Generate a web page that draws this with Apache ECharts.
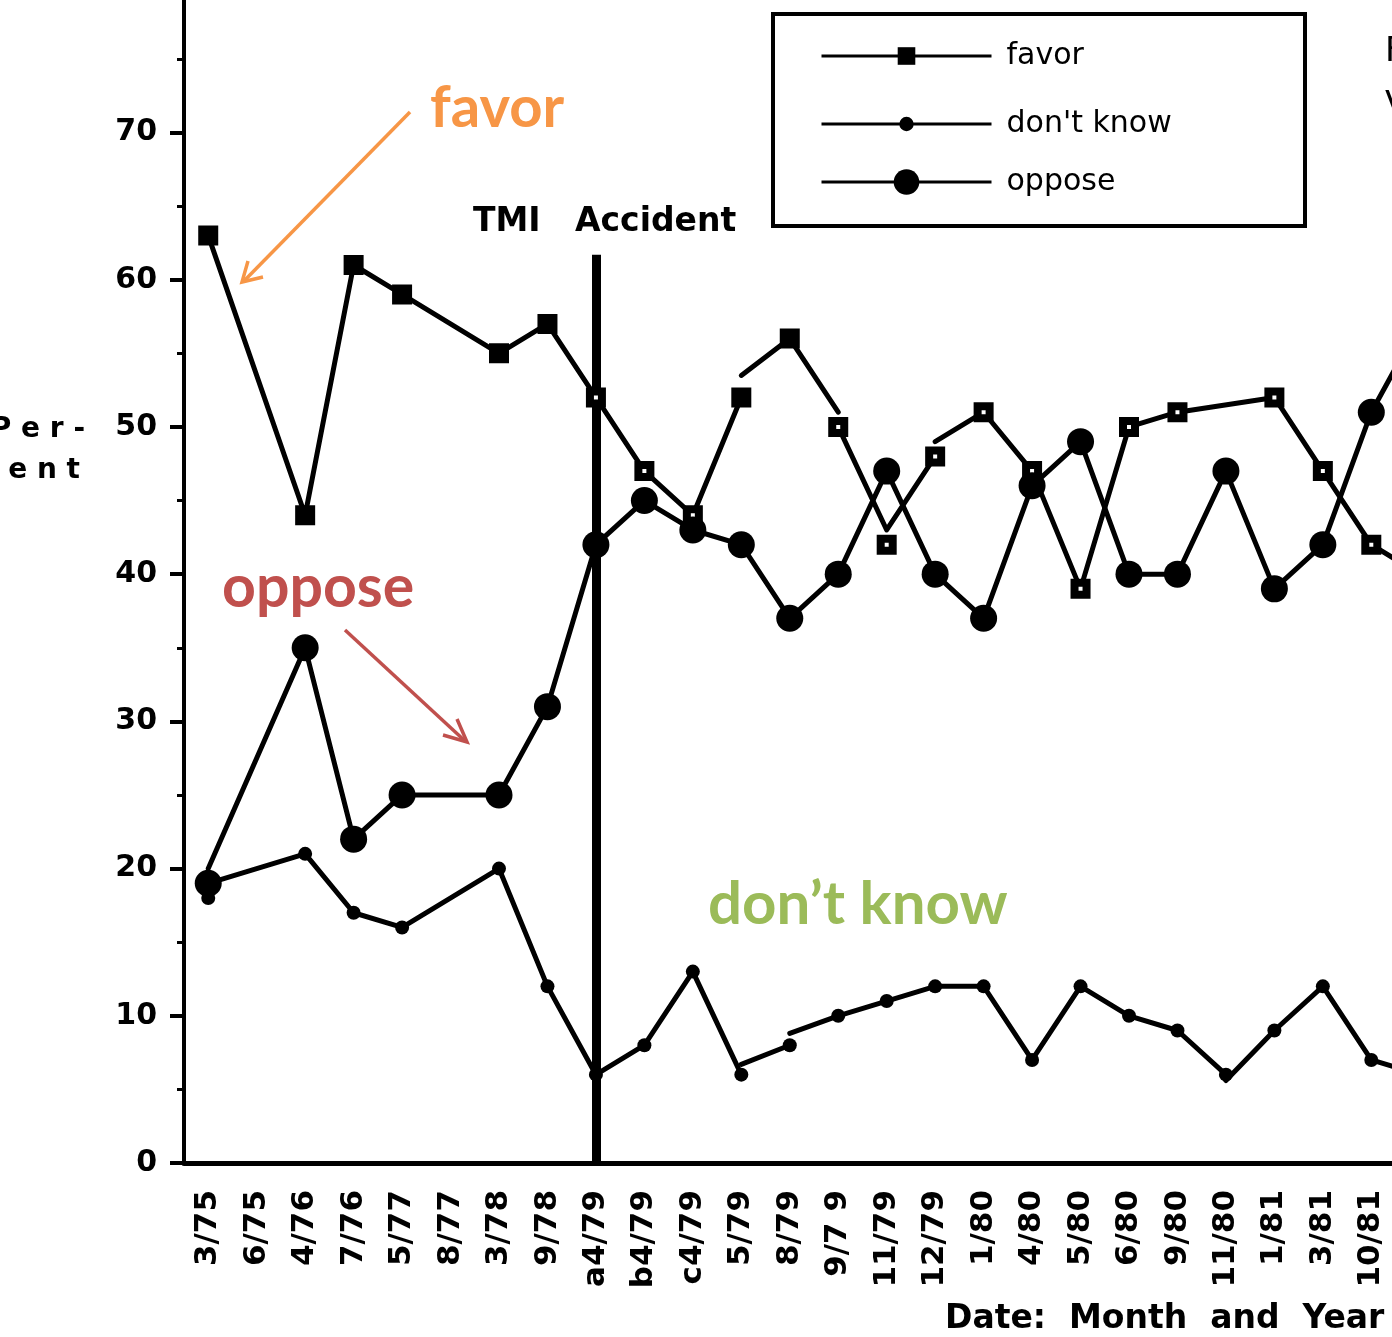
<!DOCTYPE html>
<html><head><meta charset="utf-8">
<script src="https://cdn.jsdelivr.net/npm/echarts@6/dist/echarts.min.js"></script>
<style>html,body{margin:0;padding:0;background:#fff}#c{width:1392px;height:1337px}</style>
</head><body><div id="c"></div>
<script>
// ---- data ----
const categories = ['3/75','6/75','4/76','7/76','5/77','8/77','3/78','9/78','a4/79','b4/79','c4/79','5/79','8/79','9/7 9','11/79','12/79','1/80','4/80','5/80','6/80','9/80','11/80','1/81','3/81','10/81',''];
const yTicks = [0,10,20,30,40,50,60,70,80];

const favorPoints  = [63,null,44,61,59,null,55,57,52,47,44,52,56,50,42,48,51,47,39,50,51,null,52,47,42,40];
const dkPoints     = [18,null,21,17,16,null,20,12,6,8,13,6,8,10,11,12,12,7,12,10,9,6,9,12,7,6];
const opposePoints = [19,null,35,22,25,null,25,31,42,45,43,42,37,40,47,40,37,46,49,40,40,47,39,42,51,57];

// line segments (the original chart breaks its lines where question wording changed)
const favorLine1 = [63,null,44,61,59,null,55,57,52,47,44,52,null,null,null,null,null,null,null,null,null,null,null,null,null,null];
const favorLine2 = [null,null,null,null,null,null,null,null,null,null,null,53.5,56,51,null,null,null,null,null,null,null,null,null,null,null,null];
const favorLine3 = [null,null,null,null,null,null,null,null,null,null,null,null,null,50,43,48,null,null,null,null,null,null,null,null,null,null];
const favorLine4 = [null,null,null,null,null,null,null,null,null,null,null,null,null,null,null,49,51,47,39,50,51,null,52,47,42,40];

const dkLine1 = [19,null,21,17,16,null,20,12,6,8,13,6,null,null,null,null,null,null,null,null,null,null,null,null,null,null];
const dkLine2 = [null,null,null,null,null,null,null,null,null,null,null,6.7,8,null,null,null,null,null,null,null,null,null,null,null,null,null];
const dkLine3 = [null,null,null,null,null,null,null,null,null,null,null,null,8.8,10,11,12,12,7,12,10,9,6,null,null,null,null];
const dkLine4 = [null,null,null,null,null,null,null,null,null,null,null,null,null,null,null,null,null,null,null,null,null,5.6,9,12,7,6];

const opposeLine = [20,null,35,22,25,null,25,31,42,45,43,42,37,40,47,40,37,46,49,40,40,47,39,42,51,57];

const tmiCategory = 'a4/79';
const tmiTop = 61.7;

// ---- styling ----
const BLACK = '#000';
const ORANGE = '#F79646', RED = '#C0504D', GREEN = '#9BBB59';
const FONT = 'DejaVu Sans';

function segSeries(data) {
  return {
    type: 'line', data: data, symbol: 'none', connectNulls: true, silent: true, z: 2,
    lineStyle: { color: BLACK, width: 5, join: 'round', cap: 'round' }, animation: false
  };
}

const chart = echarts.init(document.getElementById('c'), null, { renderer: 'canvas' });

const legendCommon = {
  orient: 'horizontal', padding: 0, left: 820, itemWidth: 170, selectedMode: false,
  textStyle: { fontFamily: FONT, fontSize: 30, color: BLACK, padding: [0, 0, 0, 10] },
  lineStyle: { width: 3, color: BLACK },
  itemStyle: { color: BLACK, borderWidth: 0 }
};

const option = {
  backgroundColor: '#fff',
  animation: false,
  grid: { left: 184, top: -14.7, bottom: 174, width: 1260, containLabel: false, outerBoundsMode: 'none' },
  legend: [
    Object.assign({}, legendCommon, { data: ['favor'], top: 52 - 11, itemHeight: 22 }),
    Object.assign({}, legendCommon, { data: ["don't know"], top: 118 - 9, itemHeight: 18 }),
    Object.assign({}, legendCommon, { data: ['oppose'], top: 183 - 16, itemHeight: 32 })
  ],
  xAxis: [
    {
      type: 'category', data: categories, boundaryGap: true, position: 'bottom',
      axisLine: { lineStyle: { color: BLACK, width: 5 } },
      axisTick: { alignWithLabel: true, interval: 0, length: 16, lineStyle: { color: BLACK, width: 3 } },
      axisLabel: { rotate: 90, interval: 0, margin: 27, fontFamily: FONT, fontWeight: 'bold', fontSize: 31, color: BLACK },
      splitLine: { show: false }
    },
    {
      type: 'category', data: categories, boundaryGap: true, position: 'bottom',
      axisLine: { show: false },
      axisTick: { interval: 0, length: 8, lineStyle: { color: BLACK, width: 3 } },
      axisLabel: { show: false }, splitLine: { show: false }
    }
  ],
  yAxis: {
    type: 'value', min: yTicks[0], max: yTicks[yTicks.length - 1], interval: 10,
    axisLine: { show: true, lineStyle: { color: BLACK, width: 4 } },
    axisTick: { show: true, length: 14, lineStyle: { color: BLACK, width: 4 } },
    minorTick: { show: true, splitNumber: 2, length: 7, lineStyle: { color: BLACK, width: 3 } },
    splitLine: { show: false },
    axisLabel: { margin: 27, fontFamily: FONT, fontWeight: 'bold', fontSize: 30, color: BLACK }
  },
  series: [
    segSeries(favorLine1), segSeries(favorLine2), segSeries(favorLine3), segSeries(favorLine4),
    segSeries(dkLine1), segSeries(dkLine2), segSeries(dkLine3), segSeries(dkLine4),
    Object.assign(segSeries(opposeLine), {
      markLine: {
        silent: true, symbol: 'none', animation: false,
        label: { show: false },
        lineStyle: { color: BLACK, width: 9, type: 'solid' },
        data: [[{ coord: [tmiCategory, 0] }, { coord: [tmiCategory, tmiTop] }]]
      }
    }),
    {
      name: 'favor', type: 'line', data: favorPoints, connectNulls: true, z: 5,
      symbol: 'rect', symbolSize: 12, showSymbol: true, showAllSymbol: true,
      lineStyle: { width: 0, color: BLACK },
      itemStyle: {
        color: function (p) {
          return (p.dataIndex >= 8 && p.name !== '5/79' && p.name !== '8/79') ? '#fff' : BLACK;
        },
        borderColor: BLACK, borderWidth: 8
      }
    },
    {
      name: "don't know", type: 'line', data: dkPoints, connectNulls: true, z: 5,
      symbol: 'circle', symbolSize: 14, showSymbol: true, showAllSymbol: true,
      lineStyle: { width: 0, color: BLACK },
      itemStyle: { color: BLACK, borderWidth: 0 }
    },
    {
      name: 'oppose', type: 'line', data: opposePoints, connectNulls: true, z: 5,
      symbol: 'circle', symbolSize: 27, showSymbol: true, showAllSymbol: true,
      lineStyle: { width: 0, color: BLACK },
      itemStyle: { color: BLACK, borderWidth: 0 }
    }
  ],
  graphic: [
    { type: 'rect', shape: { x: 773, y: 14, width: 532, height: 212 }, style: { fill: 'none', stroke: BLACK, lineWidth: 4 }, z: 1 },
    { type: 'text', x: 473, y: 222, style: { text: 'TMI', font: 'bold 33px "DejaVu Sans"', fill: BLACK, verticalAlign: 'middle' } },
    { type: 'text', x: 575, y: 222, style: { text: 'Accident', font: 'bold 33px "DejaVu Sans"', fill: BLACK, verticalAlign: 'middle' } },
    { type: 'text', x: 85, y: 430, style: { text: 'P e r -', font: 'bold 28px "DejaVu Sans"', fill: BLACK, align: 'right', verticalAlign: 'middle' } },
    { type: 'text', x: 80, y: 471, style: { text: 'c e n t', font: 'bold 28px "DejaVu Sans"', fill: BLACK, align: 'right', verticalAlign: 'middle' } },
    { type: 'text', x: 945, y: 1319, style: { text: 'Date:  Month  and  Year', font: 'bold 33px "DejaVu Sans"', fill: BLACK, verticalAlign: 'middle' } },
    { type: 'text', x: 1385, y: 52, style: { text: 'F', font: '34px "DejaVu Sans"', fill: BLACK, verticalAlign: 'middle' } },
    { type: 'text', x: 1385, y: 106, style: { text: 'V', font: '34px "DejaVu Sans"', fill: BLACK, verticalAlign: 'middle' } },
    // annotations
    { type: 'text', x: 430, y: 108, style: { text: 'favor', font: 'bold 58px "Lato"', fill: ORANGE, verticalAlign: 'middle' } },
    { type: 'text', x: 222, y: 588, style: { text: 'oppose', font: 'bold 59px "Lato"', fill: RED, verticalAlign: 'middle' } },
    { type: 'text', x: 708, y: 905, style: { text: 'don\u2019t know', font: 'bold 60px "Lato"', fill: GREEN, verticalAlign: 'middle' } },
    { type: 'polyline', shape: { points: [[410, 112], [244, 281]] }, style: { stroke: ORANGE, lineWidth: 3.5, fill: 'none' } },
    { type: 'polyline', shape: { points: [[263, 277], [242, 282], [248, 261]] }, style: { stroke: ORANGE, lineWidth: 3.5, fill: 'none', lineJoin: 'miter' } },
    { type: 'polyline', shape: { points: [[345, 630], [465, 741]] }, style: { stroke: RED, lineWidth: 3.5, fill: 'none' } },
    { type: 'polyline', shape: { points: [[443, 735], [467, 742], [457, 719]] }, style: { stroke: RED, lineWidth: 3.5, fill: 'none', lineJoin: 'miter' } }
  ]
};
chart.setOption(option);
</script>
</body></html>
